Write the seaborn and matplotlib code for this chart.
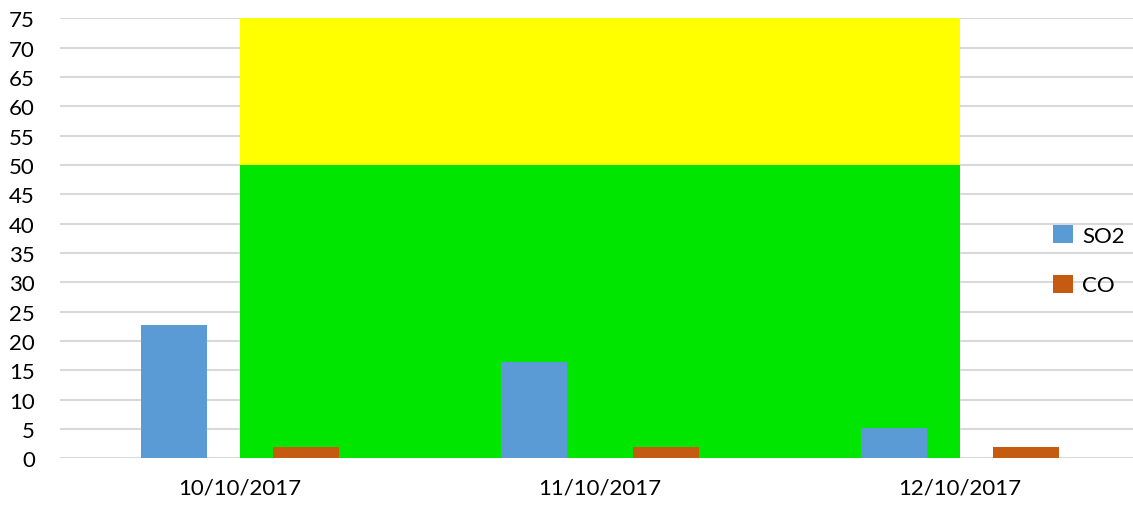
import pandas as pd
import numpy as np
import matplotlib
matplotlib.use("Agg")
import matplotlib.pyplot as plt
import seaborn as sns

# chart data
dates = ["10/10/2017", "11/10/2017", "12/10/2017"]
so2 = [22.7, 16.4, 5.2]
co = [1.9, 1.9, 1.95]
band_green = [0, 50]     # good range
band_yellow = [50, 75]   # moderate range
y_ticks = list(range(0, 80, 5))

df = pd.DataFrame({
    "date": dates * 2,
    "value": so2 + co,
    "series": ["SO2"] * len(dates) + ["CO"] * len(dates),
})

sns.set_theme(style="white")
plt.rcParams["font.family"] = ["Lato", "DejaVu Sans"]
plt.rcParams["text.color"] = "black"
plt.rcParams["xtick.color"] = "black"
plt.rcParams["ytick.color"] = "black"

fig = plt.figure(figsize=(11.33, 5.06), dpi=100)
ax = fig.add_axes([60 / 1133, 0.0923, 1 - 60 / 1133 + 0.006, 0.9615 - 0.0923])

# horizontal grid first, the colour bands cover it
for y in y_ticks:
    ax.axhline(y, color="#d9d9d9", lw=1.5, zorder=0)

# background bands, from first to last category
x_band = [0, len(dates) - 1]
ax.fill_between(x_band, band_green[0], band_green[1], color="#00e600", lw=0, zorder=1)
ax.fill_between(x_band, band_yellow[0], band_yellow[1], color="#ffff00", lw=0, zorder=1)

sns.barplot(data=df, x="date", y="value", hue="series",
            palette={"SO2": "#5b9bd5", "CO": "#c55a11"},
            width=0.733, gap=0.5, ax=ax, zorder=2, saturation=1,
            linewidth=0, edgecolor="none")

ax.set_xlim(-0.5, 2.5)
ax.set_ylim(0, 75)
ax.set_yticks(y_ticks)
ax.set_xlabel("")
ax.set_ylabel("")
for s in ax.spines.values():
    s.set_visible(False)
ax.tick_params(axis="y", length=0, pad=18, labelsize=16, labelcolor="black")
ax.tick_params(axis="x", length=0, pad=14, labelsize=16, labelcolor="black")

leg = ax.legend(loc="center left", bbox_to_anchor=(1053 / 1133, 0.484),
                bbox_transform=fig.transFigure, frameon=False,
                borderaxespad=0, borderpad=0,
                fontsize=16, handlelength=0.9, handleheight=0.9,
                handletextpad=0.4, labelspacing=1.3)
for t in leg.get_texts():
    t.set_color("black")

fig.savefig("out.png", dpi=100)
